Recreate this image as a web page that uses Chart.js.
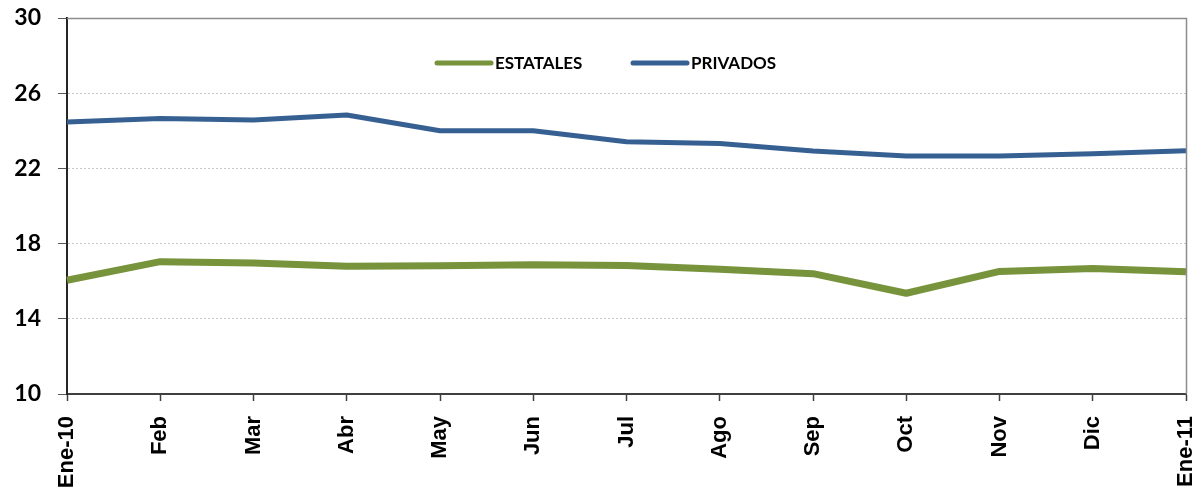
<!DOCTYPE html>
<html>
<head>
<meta charset="utf-8">
<script src="https://cdn.jsdelivr.net/npm/chart.js@4.4.1/dist/chart.umd.min.js"></script>
<style>
  html, body { margin: 0; padding: 0; background: #ffffff; }
  #wrap { width: 1201px; height: 489px; position: relative; }
</style>
</head>
<body>
<div id="wrap"><canvas id="grafica" width="1201" height="489"></canvas></div>
<script>
// datos
var meses = ['Ene-10', 'Feb', 'Mar', 'Abr', 'May', 'Jun', 'Jul', 'Ago', 'Sep', 'Oct', 'Nov', 'Dic', 'Ene-11'];
var estatales = [16.05, 17.04, 16.97, 16.79, 16.82, 16.88, 16.83, 16.64, 16.40, 15.36, 16.52, 16.68, 16.50];
var privados = [24.47, 24.66, 24.58, 24.84, 24.00, 24.00, 23.42, 23.33, 22.92, 22.66, 22.66, 22.78, 22.94];
var ticksY = [10, 14, 18, 22, 26, 30];

// marco gris arriba y a la derecha + leyenda dentro del area
var marcoYLeyenda = {
    id: 'marcoYLeyenda',
    afterDatasetsDraw(chart) {
        var ctx = chart.ctx;
        var a = chart.chartArea;
        ctx.save();
        ctx.strokeStyle = '#8c8c8c';
        ctx.lineWidth = 1.5;
        ctx.beginPath();
        ctx.moveTo(a.left, a.top + 0.5);
        ctx.lineTo(a.right + 0.5, a.top + 0.5);
        ctx.lineTo(a.right + 0.5, a.bottom);
        ctx.stroke();

        // leyenda
        var items = [
            { x: 437, ds: chart.data.datasets[0] },
            { x: 633, ds: chart.data.datasets[1] }
        ];
        ctx.lineCap = 'round';
        ctx.font = 'bold 17px Lato';
        ctx.textBaseline = 'middle';
        ctx.fillStyle = '#000000';
        items.forEach(function (it) {
            ctx.strokeStyle = it.ds.borderColor;
            ctx.lineWidth = 5;
            ctx.beginPath();
            ctx.moveTo(it.x, 63);
            ctx.lineTo(it.x + 54, 63);
            ctx.stroke();
            ctx.fillText(it.ds.label, it.x + 58, 63.5);
        });
        ctx.restore();
    }
};

var ctx = document.getElementById('grafica').getContext('2d');

var miGrafico = new Chart(ctx, {
    type: 'line',
    data: {
        labels: meses,
        datasets: [{
            label: 'ESTATALES',
            data: estatales,
            borderColor: '#77933C',
            borderWidth: 7,
            pointRadius: 0,
            tension: 0,
            borderJoinStyle: 'round',
            borderCapStyle: 'butt'
        }, {
            label: 'PRIVADOS',
            data: privados,
            borderColor: '#376092',
            borderWidth: 5,
            pointRadius: 0,
            tension: 0,
            borderJoinStyle: 'round',
            borderCapStyle: 'butt'
        }]
    },
    options: {
        responsive: false,
        animation: false,
        layout: {
            padding: { top: 18, right: 15, left: 0, bottom: 0 }
        },
        plugins: {
            legend: { display: false },
            tooltip: { enabled: false }
        },
        scales: {
            x: {
                afterFit: function (s) {
                    s.height = 95;
                    s.paddingLeft = 0;
                    s.paddingRight = 0;
                },
                grid: {
                    drawOnChartArea: false,
                    drawTicks: true,
                    tickLength: 7,
                    tickColor: '#404040',
                    tickWidth: 1.5
                },
                border: { color: '#404040', width: 2 },
                ticks: {
                    minRotation: 90,
                    maxRotation: 90,
                    autoSkip: false,
                    padding: 15,
                    color: '#000000',
                    font: { family: 'Liberation Sans', weight: 'bold', size: 22 }
                }
            },
            y: {
                min: 10,
                max: 30,
                afterFit: function (s) {
                    s.width = 67;
                    s.paddingTop = 0;
                    s.paddingBottom = 0;
                },
                afterBuildTicks: function (s) {
                    s.ticks = ticksY.map(function (v) { return { value: v }; });
                },
                grid: {
                    color: function (c) {
                        return (c.tick && (c.tick.value === 10 || c.tick.value === 30)) ? 'rgba(0,0,0,0)' : '#c8c8c8';
                    },
                    lineWidth: 1,
                    tickLength: 9,
                    tickColor: '#595959',
                    tickBorderDash: []
                },
                border: { color: '#262626', width: 2, dash: [2, 2] },
                ticks: {
                    padding: 17,
                    color: '#000000',
                    font: { family: 'Lato', weight: 'bold', size: 23 }
                }
            }
        }
    },
    plugins: [marcoYLeyenda]
});
</script>
</body>
</html>
